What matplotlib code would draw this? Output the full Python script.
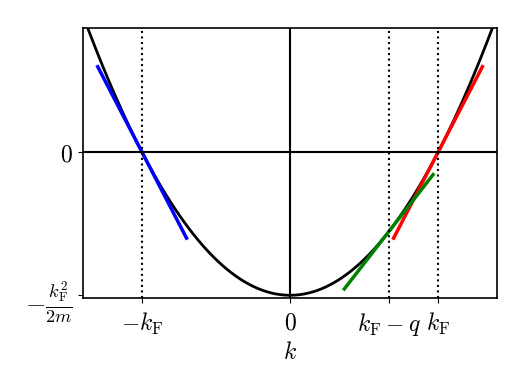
import numpy as np
import matplotlib
matplotlib.use('Agg')
import matplotlib.pyplot as plt

plt.rcParams['mathtext.fontset'] = 'cm'
plt.rcParams['font.family'] = 'serif'
plt.rcParams['font.serif'] = ['DejaVu Serif']

# units: k_F = 1, 2m = 1
kF = 1.0
q = 1.0 / 3.0
tangent_points = [-kF, kF, kF - q]
tangent_colors = ['blue', 'red', 'green']
half_width = 0.3

xticks = [-kF, 0, kF - q, kF]
xticklabels = [r'$-k_\mathrm{F}$', r'$0$', r'$k_\mathrm{F}-q$', r'$k_\mathrm{F}$']
yticks = [0, -kF**2]
yticklabels = [r'$0$', r'$-\frac{k_\mathrm{F}^2}{2m}$']


def energy(k):
    return k**2 - kF**2


fig = plt.figure(figsize=(5.25, 3.75), dpi=100)
ax = fig.add_axes([0.158, 0.205, 0.789, 0.72])

k = np.linspace(-1.5, 1.5, 400)
ax.plot(k, energy(k), color='black', lw=2)

for k0, c in zip(tangent_points, tangent_colors):
    kk = np.array([k0 - half_width, k0 + half_width])
    ax.plot(kk, energy(k0) + 2 * k0 * (kk - k0), color=c, lw=2.5)

ax.axhline(0, color='black', lw=1.5)
ax.axvline(0, color='black', lw=1.5)
for xv in [-kF, kF - q, kF]:
    ax.axvline(xv, color='black', lw=1.5, ls=':')

ax.set_xlim(-1.4, 1.4)
ax.set_ylim(-1.02, 0.87)
ax.set_xticks(xticks)
ax.set_xticklabels(xticklabels, fontsize=17)
ax.set_yticks(yticks)
ax.set_yticklabels(yticklabels, fontsize=17)
ax.get_yticklabels()[1].set_fontsize(19)
ax.tick_params(axis='x', pad=6)
ax.set_xlabel(r'$k$', fontsize=17, labelpad=2)
for s in ax.spines.values():
    s.set_linewidth(1.2)

fig.savefig('out.png', dpi=100)
